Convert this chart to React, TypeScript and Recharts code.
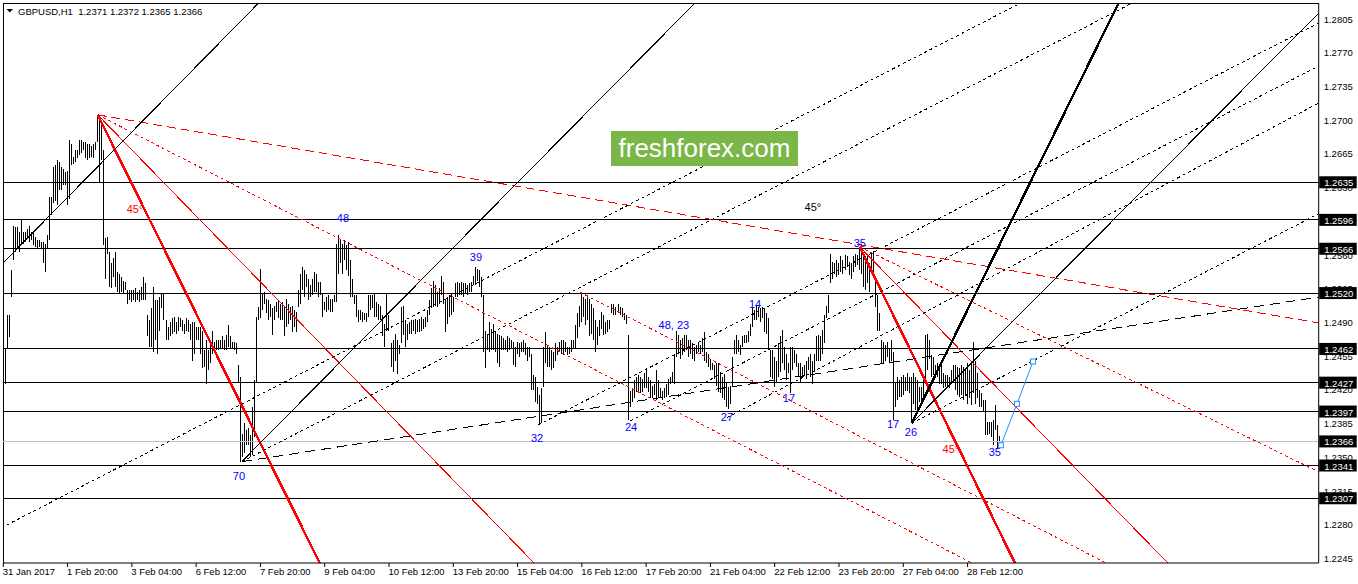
import React from 'react';
import { ComposedChart, Bar, XAxis, YAxis, ReferenceLine, Line, Scatter } from 'recharts';

// GBPUSD H1 bars, values in 1/10000 above 1.0000 (e.g. 2443 = 1.2443)
const HIGH = [
2443,2462,2497,2497,2544,2590,2589,2589,2583,2597,2583,2583,2587,2590,2583,2582,2578,2575,2575,2573,
2573,2571,2580,2620,2620,2651,2653,2658,2656,2651,2649,2646,2647,2679,2675,2661,2668,2668,2679,2679,
2677,2677,2675,2675,2673,2675,2677,2705,2704,2699,2668,2577,2578,2563,2551,2556,2563,2542,2540,2537,
2533,2532,2523,2523,2523,2523,2525,2521,2523,2526,2537,2530,2497,2492,2504,2526,2513,2513,2516,2519,
2519,2492,2485,2490,2494,2495,2490,2495,2494,2492,2488,2494,2492,2488,2490,2490,2485,2485,2485,2481,
2461,2471,2461,2471,2481,2469,2471,2471,2471,2475,2471,2476,2487,2475,2469,2469,2468,2445,2433,2374,
2385,2378,2380,2373,
2402,2430,2495,2506,2545,2519,2521,2514,2513,2509,2504,2507,2511,2513,2509,2511,2507,2514,2509,2506,
2507,2502,2500,2523,2540,2547,2544,2540,2535,2528,2535,2542,2540,2532,2532,2519,2511,2516,2518,2514,
2514,2518,2571,2580,2575,2571,2575,2570,2573,2554,2535,2518,2518,2502,2502,2500,2499,2499,2518,2518,
2518,2519,2511,2509,2507,2497,2488,2519,2497,2468,2471,2478,2471,2466,2506,2507,2492,2488,2490,2492,
2492,2493,2492,2493,2495,2493,2495,2502,2513,2525,2533,2528,2521,2525,2538,2532,2514,2516,2518,2519,
2516,2530,2532,2530,2532,2530,2530,2528,2530,2532,2538,2547,2545,2544,2537,2518,2481,2478,2490,2483,
2488,2481,2478,2476,2475,
2473,2471,2475,2473,2471,2469,2464,2469,2468,2469,2471,2468,2464,2464,2457,2435,2433,2423,2414,2421,
2464,2480,2466,2464,2461,2459,2468,2464,2469,2471,2471,2469,2464,2464,2471,2471,2487,2499,2507,2521,
2516,2514,2518,2514,2509,2504,2492,2485,2492,2500,2497,2490,2492,2492,2509,2509,2506,2509,2506,2504,
2499,2497,2476,2418,2421,2430,2433,2435,2433,2431,2437,2442,2433,2430,2424,2426,2440,2430,2421,2418,
2421,2426,2431,2433,2438,2457,2481,2476,2471,2473,2476,2476,2471,2471,2468,2464,2466,2468,2466,
2473,2480,2459,2457,2452,2447,2445,2447,2447,2438,2433,2436,2428,2423,2424,2454,2471,2476,2471,2466,
2475,2476,2476,2481,2488,
2504,2502,2507,2506,2504,2506,2504,2499,2494,2461,2461,2454,2450,2468,2475,2482,2464,2457,2447,2464,
2464,2461,2457,2447,2447,2443,2445,2450,2454,2457,2450,2457,2475,2476,2475,2482,2497,2507,2518,2561,
2552,2551,2554,2551,2558,2554,2559,2558,2552,2551,2558,2561,2559,2568,2564,2559,2558,2559,2551,2563,
2564,2537,2518,2499,2471,2469,2466,2469,2462,2471,2459,2428,2433,2430,2433,2435,2433,2437,2433,2433,
2437,2433,2430,2423,2423,2431,2476,2478,2471,2456,2454,2445,2447,2442,2445,2437,2435,2435,2433,2440,
2445,2445,2443,2442,2445,2443,2442,2447,2440,2447,2469,2449,2437,2419,2416,2409,2409,2386,2386,2386,
2388,2404,2383,2372
];
const LOW = [
2411,2426,2462,2474,2516,2554,2563,2566,2563,2571,2571,2573,2577,2573,2575,2570,2568,2566,2568,2566,
2551,2542,2566,2575,2601,2613,2616,2611,2627,2627,2632,2632,2611,2618,2653,2654,2656,2660,2663,2665,
2668,2660,2658,2660,2661,2660,2668,2677,2635,2658,2570,2535,2561,2526,2525,2537,2526,2521,2519,2521,
2519,2523,2509,2513,2511,2513,2511,2513,2511,2513,2513,2513,2475,2464,2464,2459,2471,2457,2481,2504,
2492,2471,2471,2475,2478,2480,2478,2481,2485,2481,2478,2481,2480,2471,2449,2457,2471,2471,2457,2442,
2443,2426,2440,2447,2457,2461,2461,2461,2462,2462,2461,2461,2464,2462,2462,2461,2457,2428,2345,2350,
2354,2362,2362,2350,
2352,2371,2428,2492,2494,2502,2509,2499,2492,2495,2476,2492,2500,2494,2492,2492,2475,2485,2488,2492,
2480,2485,2480,2506,2509,2523,2516,2526,2513,2516,2518,2521,2521,2516,2518,2495,2502,2500,2502,2500,
2500,2511,2511,2540,2551,2540,2554,2544,2538,2516,2516,2509,2495,2490,2492,2490,2492,2490,2495,2502,
2504,2495,2495,2492,2492,2475,2464,2481,2481,2443,2438,2450,2436,2457,2468,2476,2464,2471,2478,2478,
2481,2478,2480,2480,2481,2483,2485,2490,2497,2504,2506,2507,2506,2509,2518,2509,2480,2488,2495,2497,
2500,2516,2516,2518,2518,2516,2519,2518,2521,2521,2528,2528,2533,2526,2516,2459,2442,2461,2459,2461,
2461,2459,2447,2443,2461,
2461,2461,2459,2461,2462,2445,2443,2457,2454,2459,2459,2456,2450,2454,2419,2419,2407,2405,2383,2385,
2423,2447,2443,2443,2440,2442,2450,2456,2459,2457,2456,2459,2456,2457,2459,2462,2462,2473,2485,2490,
2495,2487,2492,2475,2478,2471,2459,2466,2475,2483,2476,2478,2480,2483,2499,2497,2497,2499,2497,2495,
2492,2488,2388,2402,2407,2411,2417,2417,2416,2417,2421,2421,2417,2411,2411,2414,2409,2411,2411,2409,
2411,2412,2414,2426,2428,2426,2454,2457,2452,2456,2459,2461,2454,2457,2452,2450,2457,2459,2457,
2459,2449,2447,2443,2440,2440,2431,2424,2417,2416,2411,2409,2402,2400,2405,2424,2457,2457,2459,2456,
2464,2468,2468,2469,2475,
2485,2492,2492,2495,2490,2494,2480,2478,2461,2433,2431,2423,2428,2433,2438,2447,2440,2430,2437,2416,
2440,2447,2443,2433,2428,2433,2435,2431,2440,2433,2426,2438,2449,2450,2450,2457,2468,2494,2499,2530,
2535,2540,2537,2539,2542,2540,2544,2547,2539,2535,2542,2547,2549,2544,2540,2526,2523,2530,2521,2542,
2537,2506,2481,2481,2447,2447,2449,2454,2447,2449,2388,2402,2409,2412,2412,2414,2418,2418,2416,2385,
2405,2399,2399,2407,2409,2412,2426,2440,2452,2433,2435,2433,2433,2426,2426,2421,2423,2423,2421,2428,
2428,2419,2414,2412,2414,2409,2414,2405,2411,2404,2416,2405,2411,2402,2402,2397,2373,2373,2374,2371,
2362,2378,2358,2365
];

const TIME_LABELS = ['31 Jan 2017', '1 Feb 20:00', '3 Feb 04:00', '6 Feb 12:00', '7 Feb 20:00', '9 Feb 04:00',
  '10 Feb 12:00', '13 Feb 20:00', '15 Feb 04:00', '16 Feb 12:00', '17 Feb 20:00', '21 Feb 04:00',
  '22 Feb 12:00', '23 Feb 20:00', '27 Feb 04:00', '28 Feb 12:00'];
const BARS_PER_LABEL = 32;
const PRICE_TICKS = [1.2245, 1.228, 1.2315, 1.235, 1.2385, 1.242, 1.2455, 1.249, 1.2525, 1.256, 1.2595,
  1.263, 1.2665, 1.27, 1.2735, 1.277, 1.2805];
const LEVELS = [1.2635, 1.2596, 1.2566, 1.252, 1.2462, 1.2427, 1.2397, 1.2341, 1.2307];
const BID = 1.2366;

// trend lines: [x1 (bar), price1, x2 (bar), price2, kind]
const TRENDS: [number, number, number, number, string][] = [
  [47, 1.2705, 654.8, 1.2489, 'redDash'],
  [47, 1.2705, 482.2, 1.22398, 'redDot'],
  [287, 1.2521, 548.9, 1.22398, 'redDot'],
  [426.3, 1.2568, 654.8, 1.23343, 'redDot'],
  [47, 1.2705, 264.2, 1.22398, 'redThin'],
  [426.3, 1.2568, 579.7, 1.22398, 'redThin'],
  [47, 1.2705, 157.5, 1.22398, 'redThick'],
  [426.3, 1.2568, 503.6, 1.22398, 'redThick'],
  [-2, 1.25473, 127.1, 1.28211, 'blackThin'],
  [118.7, 1.2345, 344.3, 1.28211, 'blackThin'],
  [452.2, 1.2385, 654.8, 1.28107, 'blackThin'],
  [452.2, 1.2385, 555.2, 1.28211, 'blackThick'],
  [118.7, 1.2345, 654.8, 1.25159, 'blackDash'],
  [-1, 1.22763, 506.5, 1.28211, 'blackDot'],
  [118.7, 1.2345, 562.0, 1.28211, 'blackDot'],
  [266.2, 1.23831, 654.8, 1.28004, 'blackDot'],
  [312.0, 1.23872, 654.8, 1.27557, 'blackDot'],
  [360.2, 1.23907, 654.8, 1.27173, 'blackDot'],
  [452.2, 1.23849, 654.8, 1.26024, 'blackDot'],
];

// wave annotations: [text, bar, price, colour]
const NOTES: [string, number, number, string][] = [
  ['70', 117.3, 1.23301, '#0000ff'],
  ['48', 169.1, 1.25979, '#0000ff'],
  ['39', 235.3, 1.25574, '#0000ff'],
  ['32', 265.7, 1.23696, '#0000ff'],
  ['24', 312.5, 1.2381, '#0000ff'],
  ['48, 23', 333.8, 1.24869, '#0000ff'],
  ['27', 360.2, 1.23915, '#0000ff'],
  ['14', 374.2, 1.25087, '#0000ff'],
  ['17', 391.1, 1.24111, '#0000ff'],
  ['35', 426.4, 1.2572, '#0000ff'],
  ['17', 442.9, 1.23841, '#0000ff'],
  ['26', 451.8, 1.23758, '#0000ff'],
  ['35', 493.6, 1.2355, '#0000ff'],
  ['45°', 65.6, 1.26073, '#ff0000'],
  ['45°', 471.7, 1.23582, '#ff0000'],
  ['45°', 403.0, 1.26094, '#000000'],
];

const FORECAST = [
  { k: 496.6, p: 1.2362 },
  { k: 504.6, p: 1.2405 },
  { k: 512.6, p: 1.2449 },
];

const X_MIN = -0.15;
const X_MAX = 654.8;
const Y_MIN = 1.22398;
const Y_MAX = 1.28211;
const AXIS_W = 39.3;
const FONT = '"Liberation Sans", Arial, sans-serif';

const STYLES: Record<string, { stroke: string; w: number; dash?: string }> = {
  redDash: { stroke: '#ff0000', w: 1, dash: '9 5' },
  redDot: { stroke: '#ff0000', w: 1, dash: '3 3' },
  redThin: { stroke: '#ff0000', w: 1 },
  redThick: { stroke: '#ff0000', w: 2.5 },
  blackThin: { stroke: '#000000', w: 1 },
  blackThick: { stroke: '#000000', w: 2.4 },
  blackDash: { stroke: '#000000', w: 1, dash: '10 6' },
  blackDot: { stroke: '#000000', w: 1, dash: '3 3' },
};

const data = HIGH.map((h, k) => ({ k, range: [1 + LOW[k] / 10000, 1 + h / 10000] }));
const noteData = NOTES.map(([t, k, p, c]) => ({ k, p, t, c }));

const BarShape = (props: any) => {
  const { x, y, width, height } = props;
  if (x == null || y == null || isNaN(x) || isNaN(y)) return null;
  const cx = Math.floor(x + width / 2) + 0.5;
  const top = Math.min(y, y + height);
  const h = Math.max(Math.abs(height), 1);
  return <line x1={cx} x2={cx} y1={top} y2={top + h} stroke="#000" strokeWidth={1} shapeRendering="crispEdges" />;
};

const TimeTick = (props: any) => {
  const { x, y, payload } = props;
  const idx = Math.round(payload.value / BARS_PER_LABEL);
  return (
    <text x={x - 0.5} y={y + 7} textAnchor="start" fontSize={9.5} fontFamily={FONT} fill="#000">
      {TIME_LABELS[idx]}
    </text>
  );
};

// price scale label drawn at the right of a horizontal reference line
const makePriceLabel = (value: number) => (props: any) => {
  const vb = props.viewBox || {};
  const right = (vb.x || 0) + (vb.width || 0);
  const yy = vb.y || 0;
  return (
    <text x={right + 5} y={yy + 0.5} dominantBaseline="central" fontSize={9.5} fontFamily={FONT} fill="#000">
      {value.toFixed(4)}
    </text>
  );
};

const makeBadge = (value: number) => (props: any) => {
  const vb = props.viewBox || {};
  const right = (vb.x || 0) + (vb.width || 0);
  const yy = vb.y || 0;
  return (
    <g>
      <rect x={right + 0.5} y={yy - 6} width={37.5} height={12} fill="#000" />
      <text x={right + 5.5} y={yy + 0.5} dominantBaseline="central" fontSize={9.5} fontFamily={FONT} fill="#fff">
        {value.toFixed(4)}
      </text>
    </g>
  );
};

const SquareDot = (props: any) => {
  const { cx, cy, index } = props;
  if (cx == null || cy == null) return null;
  return <rect key={'sq' + index} x={cx - 2.5} y={cy - 2.5} width={5} height={5} fill="#fff" stroke="#1e90ff" strokeWidth={1} />;
};

const NoteShape = (props: any) => {
  const { cx, cy, payload } = props;
  if (cx == null || cy == null) return null;
  return (
    <text x={cx} y={cy} textAnchor="middle" dominantBaseline="central" fontSize={11} fontFamily={FONT} fill={payload.c}>
      {payload.t}
    </text>
  );
};

export default function App() {
  return (
    <div style={{ position: 'relative', width: 1358, height: 584, background: '#fff', overflow: 'hidden' }}>
      <style>{'body{margin:0;background:#fff;}'}</style>
      <ComposedChart width={1358} height={584} data={data} margin={{ top: 3, right: 0, bottom: 0, left: 3 }}>
        <XAxis
          type="number"
          dataKey="k"
          domain={[X_MIN, X_MAX]}
          allowDataOverflow
          ticks={TIME_LABELS.map((_, i) => i * BARS_PER_LABEL)}
          interval={0}
          tick={<TimeTick />}
          tickSize={4}
          tickMargin={1}
          height={21}
          axisLine={{ stroke: '#000' }}
          tickLine={{ stroke: '#000' }}
        />
        <YAxis
          orientation="right"
          type="number"
          domain={[Y_MIN, Y_MAX]}
          allowDataOverflow
          ticks={PRICE_TICKS}
          interval={0}
          width={AXIS_W}
          tickSize={3}
          tick={false}
          axisLine={{ stroke: '#000' }}
          tickLine={{ stroke: '#000' }}
        />
        <ReferenceLine x={X_MIN} stroke="#000" ifOverflow="visible" shapeRendering="crispEdges" />
        <ReferenceLine y={Y_MAX} stroke="#000" ifOverflow="visible" shapeRendering="crispEdges" />
        {PRICE_TICKS.map((t) => (
          <ReferenceLine key={'pt' + t} y={t} stroke="none" label={makePriceLabel(t)} />
        ))}
        <ReferenceLine y={BID} stroke="#c0c0c0" shapeRendering="crispEdges" label={makeBadge(BID)} />
        {LEVELS.map((lv) => (
          <ReferenceLine key={'lv' + lv} y={lv} stroke="#000" shapeRendering="crispEdges" label={makeBadge(lv)} />
        ))}
        <Bar dataKey="range" barSize={1} shape={<BarShape />} isAnimationActive={false} />
        {TRENDS.map(([k1, p1, k2, p2, kind], i) => {
          const st = STYLES[kind];
          return (
            <ReferenceLine
              key={'tr' + i}
              segment={[{ x: k1, y: p1 }, { x: k2, y: p2 }]}
              stroke={st.stroke}
              strokeWidth={st.w}
              strokeDasharray={st.dash}
              ifOverflow="hidden"
              shapeRendering="crispEdges"
            />
          );
        })}
        <Line
          data={FORECAST}
          dataKey="p"
          type="linear"
          stroke="#1e90ff"
          strokeWidth={1}
          dot={<SquareDot />}
          activeDot={false}
          isAnimationActive={false}
        />
        <Scatter data={noteData} dataKey="p" shape={<NoteShape />} isAnimationActive={false} />
      </ComposedChart>
      <div style={{ position: 'absolute', left: 6, top: 4, height: 14, display: 'flex', alignItems: 'center', fontFamily: FONT, fontSize: 9.5, color: '#000', whiteSpace: 'pre' }}>
        <svg width={8} height={6} style={{ marginRight: 4 }}>
          <polygon points="0.5,1 7,1 3.75,4.5" fill="#000" />
        </svg>
        <span>{'GBPUSD,H1  1.2371 1.2372 1.2365 1.2366'}</span>
      </div>
      <div style={{ position: 'absolute', left: 611, top: 131, width: 187, height: 35, background: '#7ab648', color: '#fff', fontFamily: FONT, fontSize: 26, lineHeight: '35px', textAlign: 'center' }}>
        freshforex.com
      </div>
    </div>
  );
}
